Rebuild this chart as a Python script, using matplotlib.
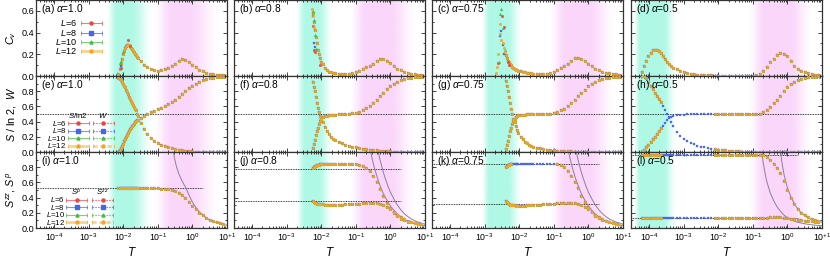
import numpy as np
import matplotlib.pyplot as plt
from matplotlib.colors import to_rgb
from matplotlib.ticker import FixedLocator, LogLocator, MultipleLocator, NullFormatter, FormatStrFormatter

plt.rcParams['font.family'] = ['Liberation Sans', 'DejaVu Sans']
plt.rcParams['mathtext.fontset'] = 'custom'
plt.rcParams['mathtext.rm'] = 'Liberation Sans'
plt.rcParams['mathtext.it'] = 'Liberation Sans:italic'
plt.rcParams['mathtext.bf'] = 'Liberation Sans:bold'

# ---------------- data ----------------
sizes = [6, 8, 10, 12]
alphas = ['1.0', '0.8', '0.75', '0.5']
letters = [['a', 'b', 'c', 'd'], ['e', 'f', 'g', 'h'], ['i', 'j', 'k', 'l']]

# column 1 (alpha = 1.0)
T1 = [0.0072, 0.0078, 0.0084, 0.009, 0.0096, 0.0103, 0.011, 0.0118, 0.0126, 0.0135,
      0.0145, 0.0155, 0.0166, 0.0178, 0.019, 0.0204, 0.0218, 0.0234, 0.025, 0.0268,
      0.032, 0.04, 0.05, 0.063, 0.079, 0.1, 0.126, 0.158, 0.2, 0.25,
      0.32, 0.4, 0.5, 0.63, 0.79, 1.0, 1.26, 1.58, 2.0, 2.5,
      3.2, 4.0, 5.0, 6.3, 7.9]
cv_a = [0.02, 0.06, 0.11, 0.16, 0.2, 0.23, 0.255, 0.275, 0.285, 0.29,
        0.285, 0.275, 0.262, 0.248, 0.233, 0.218, 0.203, 0.19, 0.178, 0.165,
        0.14, 0.105, 0.08, 0.062, 0.053, 0.05, 0.055, 0.063, 0.077, 0.092,
        0.112, 0.135, 0.152, 0.15, 0.13, 0.105, 0.08, 0.058, 0.042, 0.03,
        0.021, 0.015, 0.011, 0.008, 0.006]
s_e = [0.0, 0.02, 0.05, 0.08, 0.11, 0.14, 0.17, 0.2, 0.225, 0.25,
       0.275, 0.3, 0.32, 0.34, 0.358, 0.375, 0.39, 0.403, 0.415, 0.425,
       0.445, 0.475, 0.5, 0.52, 0.54, 0.56, 0.58, 0.6, 0.63, 0.66,
       0.69, 0.72, 0.76, 0.8, 0.84, 0.87, 0.9, 0.925, 0.945, 0.96,
       0.97, 0.978, 0.984, 0.988, 0.99]
w_e = [0.98, 0.965, 0.945, 0.925, 0.9, 0.875, 0.85, 0.82, 0.79, 0.76,
       0.73, 0.7, 0.67, 0.64, 0.615, 0.59, 0.57, 0.55, 0.5, 0.47,
       0.38, 0.3, 0.24, 0.19, 0.15, 0.12, 0.095, 0.075, 0.06, 0.047,
       0.036, 0.027, 0.02, 0.015, 0.011, 0.008, 0.006, 0.004, 0.003, 0.002,
       0.001, 0.001, 0.001, 0.0, 0.0]
sp_i = [0.52, 0.52, 0.52, 0.52, 0.52, 0.52, 0.52, 0.52, 0.52, 0.52,
        0.52, 0.52, 0.52, 0.52, 0.52, 0.52, 0.52, 0.52, 0.52, 0.52,
        0.52, 0.52, 0.52, 0.52, 0.52, 0.52, 0.518, 0.514, 0.507, 0.497,
        0.483, 0.46, 0.43, 0.39, 0.345, 0.295, 0.245, 0.2, 0.165, 0.135,
        0.11, 0.09, 0.074, 0.062, 0.052]
# scattered finite-size points in (a)
cv_a_T6, cv_a_6 = [0.0084, 0.0135, 0.0155], [0.07, 0.33, 0.28]
cv_a_T8, cv_a_8 = [0.0084], [0.09]
cv_a_T10, cv_a_10 = [0.0078, 0.0084, 0.0096], [0.12, 0.14, 0.22]

# column 2 (alpha = 0.8)
T2 = [0.0056, 0.006, 0.0065, 0.007, 0.0075, 0.0081, 0.0087, 0.0094, 0.0101, 0.011,
      0.0126, 0.0145, 0.0165, 0.019, 0.022, 0.025, 0.032, 0.04, 0.05, 0.063,
      0.079, 0.1, 0.126, 0.158, 0.2, 0.25, 0.32, 0.4, 0.5, 0.63,
      0.79, 1.0, 1.26, 1.58, 2.0, 2.5, 3.2, 4.0, 5.0, 6.3, 7.9]
cv_b = [0.58, 0.5, 0.42, 0.36, 0.3, 0.24, 0.2, 0.17, 0.13, 0.11,
        0.072, 0.052, 0.04, 0.033, 0.028, 0.026, 0.022, 0.02, 0.02, 0.022,
        0.028, 0.036, 0.048, 0.064, 0.08, 0.095, 0.115, 0.135, 0.158, 0.16,
        0.142, 0.118, 0.09, 0.068, 0.052, 0.04, 0.03, 0.022, 0.017, 0.013, 0.01]
s_f = [0.05, 0.1, 0.16, 0.22, 0.27, 0.32, 0.37, 0.41, 0.44, 0.46,
       0.475, 0.48, 0.485, 0.488, 0.49, 0.492, 0.495, 0.498, 0.5, 0.503,
       0.507, 0.515, 0.53, 0.55, 0.575, 0.605, 0.645, 0.69, 0.735, 0.78,
       0.825, 0.865, 0.9, 0.925, 0.945, 0.96, 0.972, 0.98, 0.986, 0.99, 0.993]
w_f = [0.92, 0.86, 0.8, 0.72, 0.65, 0.58, 0.52, 0.47, 0.43, 0.39,
       0.33, 0.27, 0.235, 0.2, 0.175, 0.16, 0.135, 0.115, 0.098, 0.083,
       0.07, 0.06, 0.052, 0.045, 0.038, 0.032, 0.027, 0.022, 0.018, 0.014,
       0.011, 0.008, 0.006, 0.004, 0.003, 0.002, 0.002, 0.001, 0.001, 0.001, 0.001]
szz_j = [0.79, 0.805, 0.815, 0.822, 0.827, 0.831, 0.834, 0.836, 0.838, 0.839,
         0.84, 0.84, 0.84, 0.84, 0.84, 0.84, 0.84, 0.84, 0.84, 0.84,
         0.84, 0.84, 0.835, 0.82, 0.79, 0.745, 0.68, 0.6, 0.51, 0.415,
         0.33, 0.26, 0.2, 0.155, 0.125, 0.1, 0.085, 0.073, 0.064, 0.057, 0.052]
sp_j = [0.36, 0.345, 0.335, 0.327, 0.322, 0.318, 0.315, 0.313, 0.311, 0.31,
        0.309, 0.308, 0.307, 0.307, 0.307, 0.307, 0.308, 0.309, 0.31, 0.312,
        0.315, 0.318, 0.322, 0.326, 0.33, 0.332, 0.332, 0.328, 0.318, 0.3,
        0.275, 0.245, 0.21, 0.175, 0.145, 0.118, 0.097, 0.08, 0.068, 0.058, 0.05]
cv_b_T6, cv_b_6 = [0.0057, 0.0062, 0.0068, 0.0095], [0.46, 0.24, 0.22, 0.1]
cv_b_T8, cv_b_8 = [0.0056, 0.006, 0.0064], [0.55, 0.3, 0.27]
cv_b_T10, cv_b_10 = [0.0058, 0.0061, 0.0066, 0.007], [0.6, 0.52, 0.38, 0.25]
cv_b_T12, cv_b_12 = [0.0055, 0.0059, 0.0062], [0.62, 0.55, 0.45]

# column 3 (alpha = 0.75)
T3 = [0.0042, 0.0045, 0.0048, 0.0051, 0.0055, 0.0059, 0.0063, 0.0068, 0.0073, 0.0079,
      0.0087, 0.0095, 0.011, 0.0126, 0.0145, 0.0165, 0.019, 0.022, 0.025, 0.032,
      0.04, 0.05, 0.063, 0.079, 0.1, 0.126, 0.158, 0.2, 0.25, 0.32,
      0.4, 0.5, 0.63, 0.79, 1.0, 1.26, 1.58, 2.0, 2.5, 3.2,
      4.0, 5.0, 6.3, 7.9]
cv_c = [0.19, 0.165, 0.14, 0.125, 0.11, 0.097, 0.085, 0.074, 0.065, 0.057,
        0.052, 0.048, 0.043, 0.039, 0.035, 0.03, 0.027, 0.024, 0.022, 0.02,
        0.02, 0.02, 0.022, 0.03, 0.04, 0.055, 0.072, 0.092, 0.115, 0.14,
        0.162, 0.168, 0.155, 0.138, 0.115, 0.09, 0.068, 0.052, 0.04, 0.032,
        0.025, 0.02, 0.016, 0.012]
s_g = [0.04, 0.09, 0.15, 0.21, 0.27, 0.32, 0.37, 0.41, 0.44, 0.46,
       0.475, 0.482, 0.487, 0.49, 0.492, 0.494, 0.495, 0.496, 0.497, 0.498,
       0.499, 0.5, 0.502, 0.506, 0.513, 0.527, 0.547, 0.572, 0.602, 0.642,
       0.687, 0.732, 0.778, 0.822, 0.862, 0.897, 0.923, 0.943, 0.958, 0.97,
       0.978, 0.985, 0.99, 0.993]
w_g = [0.93, 0.87, 0.8, 0.72, 0.64, 0.57, 0.5, 0.44, 0.39, 0.34,
       0.29, 0.25, 0.2, 0.165, 0.135, 0.115, 0.098, 0.083, 0.072, 0.057,
       0.047, 0.039, 0.032, 0.027, 0.022, 0.018, 0.015, 0.012, 0.01, 0.008,
       0.006, 0.005, 0.004, 0.003, 0.002, 0.002, 0.001, 0.001, 0.001, 0.001,
       0.0, 0.0, 0.0, 0.0]
szz_k = [0.8, 0.815, 0.825, 0.832, 0.836, 0.838, 0.84, 0.841, 0.842, 0.842,
         0.842, 0.842, 0.842, 0.842, 0.842, 0.842, 0.842, 0.842, 0.842, 0.842,
         0.842, 0.842, 0.842, 0.842, 0.842, 0.838, 0.825, 0.8, 0.755, 0.69,
         0.61, 0.52, 0.425, 0.34, 0.27, 0.21, 0.16, 0.128, 0.103, 0.087,
         0.075, 0.066, 0.058, 0.052]
sp_k = [0.36, 0.34, 0.325, 0.315, 0.308, 0.303, 0.3, 0.298, 0.297, 0.296,
        0.295, 0.295, 0.295, 0.295, 0.296, 0.297, 0.298, 0.3, 0.302, 0.305,
        0.308, 0.311, 0.314, 0.318, 0.322, 0.326, 0.33, 0.333, 0.334, 0.332,
        0.326, 0.315, 0.298, 0.275, 0.245, 0.21, 0.175, 0.145, 0.118, 0.097,
        0.08, 0.068, 0.058, 0.05]
gap_k = (0.006, 0.11)  # range where only L=8 shows on the upper branch of (k)
cv_c_T6, cv_c_6 = [0.0024, 0.0031, 0.0037, 0.0047, 0.0052], [0.12, 0.55, 0.45, 0.13, 0.1]
cv_c_T8, cv_c_8 = [0.0027, 0.0029, 0.0033, 0.0037], [0.37, 0.41, 0.29, 0.2]
cv_c_T10, cv_c_10 = [0.0026, 0.0028, 0.003, 0.0033, 0.0038], [0.13, 0.57, 0.62, 0.44, 0.24]
cv_c_T12 = [0.0021, 0.0023, 0.0025, 0.0027, 0.0028, 0.003, 0.0033, 0.0036, 0.0039]
cv_c_12 = [0.03, 0.08, 0.2, 0.39, 0.48, 0.33, 0.3, 0.26, 0.22]

# column 4 (alpha = 0.5)
T4 = [6.2e-5, 7.2e-5, 8.3e-5, 9.5e-5, 1.1e-4, 1.26e-4, 1.45e-4, 1.66e-4, 1.9e-4, 2.2e-4,
      2.5e-4, 2.9e-4, 3.3e-4, 3.8e-4, 4.4e-4, 5e-4, 6.3e-4, 7.9e-4, 1e-3, 1.26e-3,
      1.58e-3, 2e-3, 2.5e-3, 3.2e-3, 4e-3, 5e-3, 6.3e-3,
      0.0079, 0.01, 0.0126, 0.0158, 0.02, 0.025, 0.032, 0.04, 0.05, 0.063,
      0.079, 0.1, 0.126, 0.158, 0.2, 0.25, 0.32, 0.4, 0.5, 0.63,
      0.79, 1.0, 1.26, 1.58, 2.0, 2.5, 3.2, 4.0, 5.0, 6.3, 7.9]
cv_d = [0.04, 0.09, 0.14, 0.18, 0.215, 0.235, 0.24, 0.238, 0.228, 0.21,
        0.185, 0.155, 0.13, 0.11, 0.09, 0.077, 0.06, 0.048, 0.036, 0.028,
        0.022, 0.017, 0.013, 0.01, 0.008, 0.006, 0.005,
        0.004, 0.004, 0.003, 0.003, 0.003, 0.003, 0.003, 0.003, 0.003, 0.003,
        0.003, 0.004, 0.008, 0.018, 0.045, 0.085, 0.125, 0.16, 0.195, 0.21,
        0.205, 0.18, 0.135, 0.095, 0.068, 0.048, 0.035, 0.025, 0.018, 0.012, 0.009]
s_h = [0.0, 0.03, 0.06, 0.09, 0.13, 0.17, 0.2, 0.24, 0.27, 0.31,
       0.34, 0.38, 0.42, 0.45, 0.465, 0.475, 0.485, 0.49, 0.493, 0.495,
       0.497, 0.498, 0.499, 0.5, 0.5, 0.5, 0.5,
       0.5, 0.5, 0.5, 0.5, 0.5, 0.5, 0.5, 0.5, 0.5, 0.5,
       0.5, 0.5, 0.5, 0.505, 0.52, 0.55, 0.59, 0.64, 0.69, 0.74,
       0.8, 0.85, 0.89, 0.925, 0.95, 0.966, 0.977, 0.985, 0.99, 0.993, 0.995]
w_h = [1.0, 1.0, 0.97, 0.92, 0.87, 0.83, 0.78, 0.74, 0.7, 0.66,
       0.6, 0.55, 0.5, 0.46, 0.4, 0.34, 0.265, 0.21, 0.17, 0.14,
       0.12, 0.1, 0.085, 0.07, 0.06, 0.052, 0.045,
       0.038, 0.032, 0.027, 0.022, 0.017, 0.013, 0.01, 0.007, 0.005, 0.003,
       0.002, 0.001, 0.0, 0.0, 0.0, 0.0, 0.0, 0.0, 0.0, 0.0,
       0.0, 0.0, 0.0, 0.0, 0.0, 0.0, 0.0, 0.0, 0.0, 0.0, 0.0]
szz_l = [0.965, 0.965, 0.965, 0.965, 0.965, 0.965, 0.965, 0.965, 0.965, 0.965,
         0.965, 0.965, 0.965, 0.965, 0.965, 0.965, 0.965, 0.965, 0.965, 0.965,
         0.965, 0.965, 0.965, 0.965, 0.965, 0.965, 0.965,
         0.965, 0.965, 0.965, 0.965, 0.965, 0.965, 0.965, 0.965, 0.965, 0.965,
         0.965, 0.965, 0.965, 0.96, 0.955, 0.93, 0.89, 0.84, 0.79, 0.72,
         0.62, 0.5, 0.4, 0.32, 0.25, 0.2, 0.165, 0.14, 0.12, 0.105, 0.09]
sp_l = [0.13, 0.13, 0.13, 0.13, 0.13, 0.13, 0.13, 0.13, 0.13, 0.13,
        0.13, 0.13, 0.13, 0.13, 0.13, 0.13, 0.13, 0.13, 0.13, 0.13,
        0.13, 0.13, 0.13, 0.13, 0.13, 0.13, 0.13,
        0.13, 0.13, 0.13, 0.13, 0.13, 0.13, 0.13, 0.13, 0.13, 0.13,
        0.13, 0.13, 0.13, 0.132, 0.135, 0.138, 0.14, 0.142, 0.142, 0.14,
        0.135, 0.128, 0.12, 0.113, 0.106, 0.1, 0.095, 0.09, 0.086, 0.082, 0.078]
gap_col4 = (2.4e-4, 7e-3)  # range where only L=8 shows in (h) and (l)

# dotted reference levels
ref_row2 = 0.5
ref_row3 = [[0.52], [0.775, 0.35], [0.84, 0.315], [0.965, 0.13]]
ref_Tmax = 2.0

# thin grey high-T curves in the bottom row
gl_i_T = [0.27, 0.3, 0.34, 0.4, 0.5, 0.66, 0.8, 1.0, 1.3, 1.6, 2.0, 2.5, 3.2, 4.0, 5.0, 6.3, 8.0, 10.0]
gl_i_v = [1.05, 0.93, 0.82, 0.72, 0.62, 0.52, 0.43, 0.34, 0.26, 0.21, 0.17, 0.135, 0.105, 0.085, 0.07, 0.055, 0.045, 0.036]
gl_A_T = [0.26, 0.3, 0.35, 0.42, 0.5, 0.6, 0.7, 0.85, 1.0, 1.3, 1.6, 2.0, 2.5, 3.2, 4.0, 5.0, 6.3, 8.0, 10.0]
gl_A_v = [1.03, 0.9, 0.78, 0.66, 0.56, 0.47, 0.41, 0.34, 0.29, 0.225, 0.18, 0.145, 0.115, 0.09, 0.072, 0.058, 0.046, 0.036, 0.029]
gl_B_T = [0.43, 0.5, 0.6, 0.7, 0.85, 1.0, 1.3, 1.6, 2.0, 2.5, 3.2, 4.0, 5.0, 6.3, 8.0, 10.0]
gl_B_v = [1.03, 0.9, 0.76, 0.66, 0.55, 0.47, 0.37, 0.3, 0.24, 0.19, 0.15, 0.12, 0.097, 0.078, 0.062, 0.05]
gl_lA_T = [0.18, 0.2, 0.25, 0.32, 0.4, 0.5, 0.63, 0.8, 1.0, 1.26, 1.58, 2.0, 2.5, 3.2, 4.0, 5.0, 6.3, 8.0, 10.0]
gl_lA_v = [1.03, 0.85, 0.62, 0.46, 0.36, 0.28, 0.22, 0.17, 0.135, 0.11, 0.09, 0.075, 0.065, 0.055, 0.048, 0.042, 0.037, 0.033, 0.03]
gl_lB_T = [0.62, 0.7, 0.8, 1.0, 1.26, 1.58, 2.0, 2.5, 3.2, 4.0, 5.0, 6.3, 8.0, 10.0]
gl_lB_v = [1.03, 0.85, 0.7, 0.53, 0.41, 0.32, 0.25, 0.2, 0.16, 0.13, 0.11, 0.095, 0.085, 0.075]

# shaded crossover windows, log10(T): fade-in start, full, full, fade-out end
cyan_bands = [(-2.5, -2.2, -1.8, -1.15), (-2.75, -2.45, -2.1, -1.65),
              (-3.1, -2.85, -2.35, -1.9), (-4.45, -4.25, -3.6, -3.2)]
pink_bands = [(-1.15, -0.6, -0.15, 0.8), (-1.2, -0.7, 0.0, 0.75),
              (-1.15, -0.65, 0.0, 0.8), (-1.15, -0.65, 0.05, 0.75)]

# ---------------- style ----------------
colors = ['#ee4444', '#4466ee', '#44bb44', '#f5a623']
markers = ['o', 's', '^', 'o']
xmin, xmax = 3e-5, 10.0
W, H = 830, 258
col_left = [36, 234, 432, 631]
col_w = 191
row_top = [0, 76, 152]
row_h = 76

fig = plt.figure(figsize=(W / 100, H / 100), dpi=100)
axes = [[None] * 4 for _ in range(3)]
for r in range(3):
    for c in range(4):
        ax = fig.add_axes([col_left[c] / W, (H - row_top[r] - row_h) / H, col_w / W, row_h / H])
        axes[r][c] = ax


def shade(ax, c):
    n = 800
    u = (np.arange(n) + 0.5) / n
    lt = np.log10(xmin) + u * (np.log10(xmax) - np.log10(xmin))
    img = np.ones((1, n, 4))
    img[..., 3] = 0.0
    for color, (a0, a1, b1, b0), amax in [('#5ef2cc', cyan_bands[c], 0.5),
                                          ('#f49af4', pink_bands[c], 0.4)]:
        w = np.clip(np.minimum((lt - a0) / (a1 - a0), (b0 - lt) / (b0 - b1)), 0, 1)
        w = w * w * (3 - 2 * w)
        m = w > 0
        img[0, m, :3] = to_rgb(color)
        img[0, m, 3] = w[m] * amax
    ax.set_autoscale_on(False)
    ax.imshow(img, extent=(0, 1, 0, 1), transform=ax.transAxes, aspect='auto',
              interpolation='bilinear', zorder=0)


def pts(ax, T, v, k, z=3.0, gap=None):
    T = np.asarray(T)
    v = np.asarray(v)
    if gap is not None:
        keep = (T < gap[0]) | (T > gap[1])
        T, v = T[keep], v[keep]
    ax.plot(T, v, ls='none', marker=markers[k], ms=2.0, color=colors[k],
            mec=colors[k], mew=0.2, alpha=0.9 if k == 3 else 0.95, zorder=z + 0.1 * k)


def all_sizes(ax, T, v, gap=None):
    for k in range(4):
        pts(ax, T, v, k, gap=None if k == 1 else gap)


def legend_rows(ax, ys, xt, segs, styles, fs):
    for k, y in enumerate(ys):
        ax.text(xt, y, '$L$=%d' % sizes[k], ha='right', va='center',
                transform=ax.transAxes, fontsize=fs, zorder=6)
        for (x0, x1), ls in zip(segs, styles):
            lw = 2.0 if k == 3 else 0.8
            ax.plot([x0, x1], [y, y], transform=ax.transAxes, color=colors[k], lw=lw,
                    ls=ls, alpha=0.5 if k == 3 else 0.7, solid_capstyle='butt', zorder=6)
            ax.plot([x0, x1], [y, y], transform=ax.transAxes, ls='none', marker='|',
                    ms=2.2, mew=0.5, color=colors[k], zorder=6)
            ax.plot([(x0 + x1) / 2], [y], transform=ax.transAxes, ls='none',
                    marker=markers[k], ms=2.2, color=colors[k], zorder=6)


# ---------------- axes setup ----------------
dec = [1e-4, 1e-3, 1e-2, 1e-1, 1.0, 10.0]
dec_lab = ['$10^{-4}$', '$10^{-3}$', '$10^{-2}$', '$10^{-1}$', '$10^{0}$', '$10^{+1}$']
for r in range(3):
    for c in range(4):
        ax = axes[r][c]
        ax.set_xscale('log')
        ax.set_xlim(xmin, xmax)
        ax.set_ylim(0, 0.7 if r == 0 else 1.0)
        shade(ax, c)
        ax.xaxis.set_major_locator(FixedLocator(dec))
        ax.xaxis.set_minor_locator(LogLocator(base=10, subs=np.arange(2, 10)))
        ax.xaxis.set_minor_formatter(NullFormatter())
        if r == 2:
            ax.set_xticklabels(dec_lab)
        else:
            ax.set_xticklabels([])
        ax.yaxis.set_major_locator(FixedLocator([0, 0.2, 0.4, 0.6] if r == 0 else [0, 0.2, 0.4, 0.6, 0.8]))
        ax.yaxis.set_minor_locator(MultipleLocator(0.1))
        if c == 0:
            ax.yaxis.set_major_formatter(FormatStrFormatter('%.1f'))
        else:
            ax.set_yticklabels([])
        ax.tick_params(which='both', direction='in', top=True, right=True, width=0.6,
                       labelsize=6.6, pad=1.5, color='#222222')
        ax.tick_params(which='major', length=2.6)
        ax.tick_params(which='minor', length=1.4)
        ax.tick_params(axis='x', labelsize=6.3, pad=2.5)
        for sp in ax.spines.values():
            sp.set_linewidth(0.9)
            sp.set_color('#333333')
        ax.text(0.025, 0.975, '(%s) $\\alpha$=%s' % (letters[r][c], alphas[c]),
                transform=ax.transAxes, ha='left', va='top', fontsize=7.3, zorder=7)

# ---------------- row 1: specific heat ----------------
ax = axes[0][0]
all_sizes(ax, T1, cv_a)
pts(ax, cv_a_T6, cv_a_6, 0, z=3.5)
pts(ax, cv_a_T8, cv_a_8, 1, z=3.5)
pts(ax, cv_a_T10, cv_a_10, 2, z=3.5)
legend_rows(ax, [0.70, 0.57, 0.45, 0.33], 0.215, [(0.235, 0.345)], ['-'], 6.6)

ax = axes[0][1]
all_sizes(ax, T2, cv_b)
for k, (tt, vv) in enumerate([(cv_b_T6, cv_b_6), (cv_b_T8, cv_b_8),
                              (cv_b_T10, cv_b_10), (cv_b_T12, cv_b_12)]):
    pts(ax, tt, vv, k, z=3.5)

ax = axes[0][2]
all_sizes(ax, T3, cv_c)
for k, (tt, vv) in enumerate([(cv_c_T6, cv_c_6), (cv_c_T8, cv_c_8),
                              (cv_c_T10, cv_c_10), (cv_c_T12, cv_c_12)]):
    pts(ax, tt, vv, k, z=3.5)

all_sizes(axes[0][3], T4, cv_d)

# ---------------- row 2: entropy and W ----------------
for c in range(4):
    axes[1][c].axhline(ref_row2, color='k', lw=0.6, ls=(0, (1, 1)), zorder=1)
all_sizes(axes[1][0], T1, s_e)
all_sizes(axes[1][0], T1, w_e)
all_sizes(axes[1][1], T2, s_f)
all_sizes(axes[1][1], T2, w_f)
all_sizes(axes[1][2], T3, s_g)
all_sizes(axes[1][2], T3, w_g)
all_sizes(axes[1][3], T4, s_h, gap=gap_col4)
all_sizes(axes[1][3], T4, w_h, gap=gap_col4)

ax = axes[1][0]
ax.text(0.218, 0.475, '$S$/ln2', transform=ax.transAxes, ha='center', va='center', fontsize=5.6, zorder=6)
ax.text(0.353, 0.475, '$W$', transform=ax.transAxes, ha='center', va='center', fontsize=5.6, zorder=6)
legend_rows(ax, [0.38, 0.28, 0.18, 0.08], 0.16, [(0.165, 0.275), (0.297, 0.408)],
            ['-', (0, (1.5, 1))], 5.6)

# ---------------- row 3: S^p, S^zz ----------------
for c in range(4):
    for yv in ref_row3[c]:
        axes[2][c].hlines(yv, xmin, ref_Tmax, colors='k', lw=0.6, linestyles=(0, (1, 1)), zorder=1)

gcol = '#8c8098'
ax = axes[2][0]
ax.plot(gl_i_T, gl_i_v, color=gcol, lw=0.7, zorder=2)
all_sizes(ax, T1, sp_i)
ax.text(0.208, 0.475, '$S^{p}$', transform=ax.transAxes, ha='center', va='center', fontsize=5.6, zorder=6)
ax.text(0.348, 0.475, '$S^{zz}$', transform=ax.transAxes, ha='center', va='center', fontsize=5.6, zorder=6)
legend_rows(ax, [0.375, 0.275, 0.175, 0.075], 0.152, [(0.157, 0.269), (0.292, 0.405)],
            ['-', (0, (1.5, 1))], 5.6)

for c, (up, lo, T, gap) in zip([1, 2], [(szz_j, sp_j, T2, None), (szz_k, sp_k, T3, gap_k)]):
    ax = axes[2][c]
    ax.plot(gl_A_T, gl_A_v, color=gcol, lw=0.7, zorder=2)
    ax.plot(gl_B_T, gl_B_v, color=gcol, lw=0.7, zorder=2)
    all_sizes(ax, T, up, gap=gap)
    all_sizes(ax, T, lo)

ax = axes[2][3]
ax.plot(gl_lA_T, gl_lA_v, color=gcol, lw=0.7, zorder=2)
ax.plot(gl_lB_T, gl_lB_v, color=gcol, lw=0.7, zorder=2)
all_sizes(ax, T4, szz_l, gap=gap_col4)
all_sizes(ax, T4, sp_l, gap=gap_col4)

# ---------------- labels ----------------
ylabels = ['$C_v$', '$S$ / ln 2,  $W$', '$S^{zz}$, $S^{p}$']
for r in range(3):
    fig.text(11 / W, 1 - (row_top[r] + row_h / 2) / H, ylabels[r], rotation=90,
             ha='center', va='center', fontsize=7.8)
for c in range(4):
    fig.text((col_left[c] + col_w / 2) / W, 6 / H, '$T$', ha='center', va='center', fontsize=8.5)

fig.savefig('out.png', dpi=100)
